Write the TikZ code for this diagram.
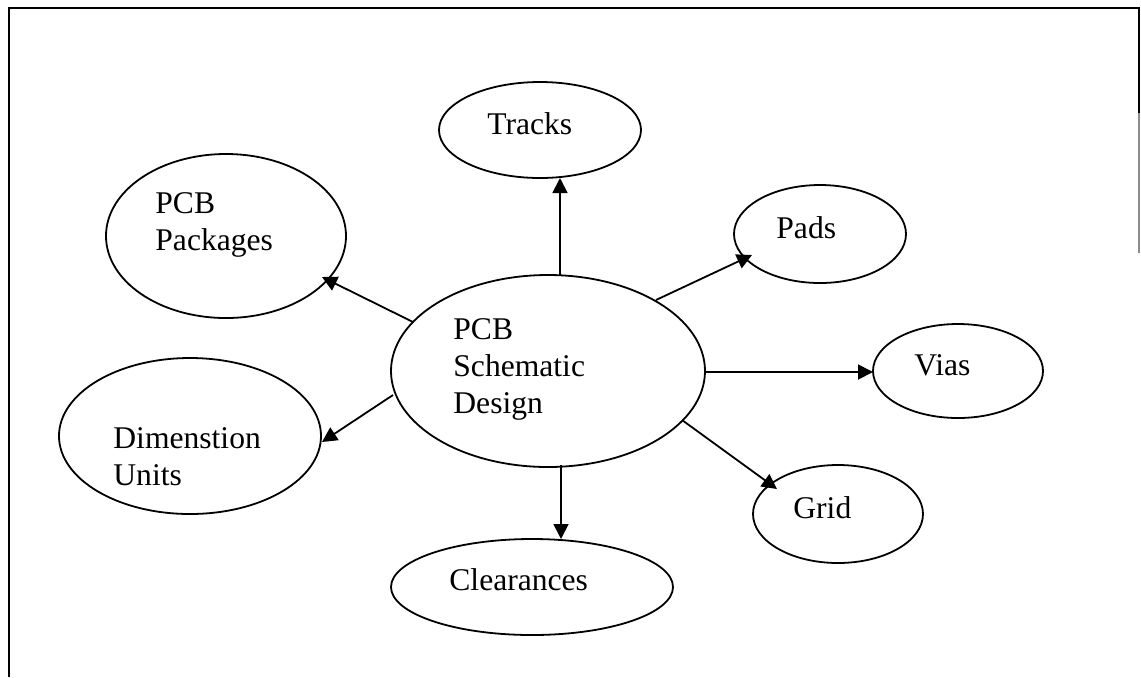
\documentclass[tikz,border=0pt]{standalone}
\usepackage{fontspec}
\setmainfont{Liberation Serif}
\usetikzlibrary{shapes.geometric,arrows.meta,calc}
\tikzset{
  bubble/.style={draw, ellipse, line width=0.9pt, inner sep=0pt},
  % base anchor of a multi-line label sits on its last line
  lbl/.style={anchor=base west, align=left, inner sep=0pt,
              font=\fontsize{15.8}{18.5}\selectfont},
  arr/.style={line width=0.9pt, -{Triangle[length=7.5pt,width=7.5pt]}},
  frame/.style={line width=1pt}
}
\begin{document}
\begin{tikzpicture}[x=0.5pt,y=-0.5pt]
  \useasboundingbox (0,0) rectangle (1141,677);

  % page frame (open at the bottom)
  \coordinate (fbl) at (9,677);
  \coordinate (ftl) at (9,8);
  \coordinate (ftr) at (1139,8);
  \coordinate (fmr) at (1139,113);
  \coordinate (flr) at (1139,253);
  \draw[frame] (fbl) -- (ftl) -- (ftr) -- (fmr);
  \draw[frame, black!45] (fmr) -- (flr);

  % ellipses
  \node[bubble, minimum width=157pt, minimum height=96pt] (main)   at (548,371) {};
  \node[bubble, minimum width=101pt, minimum height=48pt] (tracks) at (540,130) {};
  \node[bubble, minimum width=120pt, minimum height=82pt] (pkg)    at (226,236) {};
  \node[bubble, minimum width=86pt,  minimum height=49pt] (pads)   at (820,234) {};
  \node[bubble, minimum width=85pt,  minimum height=47pt] (vias)   at (958,371) {};
  \node[bubble, minimum width=85pt,  minimum height=49pt] (grid)   at (838,514) {};
  \node[bubble, minimum width=141pt, minimum height=48pt] (clear)  at (532,587) {};
  \node[bubble, minimum width=131pt, minimum height=78pt] (dim)    at (190,436) {};

  % labels
  \node[lbl] (tmain)   at (453,413) {PCB\\Schematic\\Design};
  \node[lbl] (ttracks) at (487,134) {Tracks};
  \node[lbl] (tpkg)    at (155,250) {PCB\\Packages};
  \node[lbl] (tpads)   at (776,238) {Pads};
  \node[lbl] (tvias)   at (914,375) {Vias};
  \node[lbl] (tgrid)   at (793,518) {Grid};
  \node[lbl] (tclear)  at (449,590) {Clearances};
  \node[lbl] (tdim)    at (113,485) {Dimenstion\\Units};

  % connectors
  \draw[arr] ($(main)+(12,-96)$)  -- ($(tracks)+(20,48)$);
  \draw[arr] ($(main)+(-135,-49)$) -- ($(pkg)+(96,41)$);
  \draw[arr] ($(main)+(-155,24)$) -- ($(dim)+(132,6)$);
  \draw[arr] ($(main)+(108,-71)$) -- ($(pads)+(-68,21)$);
  \draw[arr] ($(main)+(157,1)$)   -- ($(vias)+(-85,1)$);
  \draw[arr] ($(main)+(134,49)$)  -- ($(grid)+(-61,-25)$);
  \draw[arr] ($(main)+(13,94)$)   -- ($(clear)+(29,-48)$);
\end{tikzpicture}
\end{document}
